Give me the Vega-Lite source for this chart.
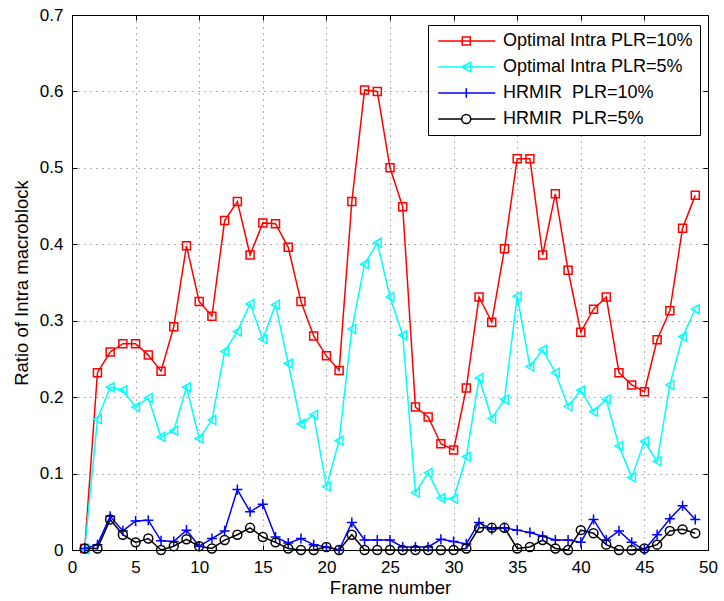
{
  "$schema": "https://vega.github.io/schema/vega-lite/v6.json",
  "width": 636,
  "height": 535,
  "autosize": {"type": "none"},
  "padding": {"left": 72, "top": 15, "right": 16, "bottom": 51},
  "background": "white",
  "config": {
    "font": "Liberation Sans",
    "view": {"stroke": "#000", "strokeWidth": 1},
    "axis": {
      "labelFontSize": 17,
      "labelColor": "#000",
      "labelFont": "Liberation Sans",
      "titleFont": "Liberation Sans",
      "titleFontSize": 18.5,
      "titleFontWeight": "normal",
      "titleColor": "#000",
      "tickColor": "#000",
      "tickSize": -5,
      "domain": false,
      "grid": true,
      "gridColor": "#000",
      "gridDash": [1, 5],
      "gridOpacity": 0.6,
      "labelFlush": false
    }
  },
  "data": {
    "values": [
      {"f": 1, "Optimal Intra PLR=10%": 0.002, "Optimal Intra PLR=5%": 0.001, "HRMIR\u00a0 PLR=10%": 0.002, "HRMIR\u00a0 PLR=5%": 0.002},
      {"f": 2, "Optimal Intra PLR=10%": 0.232, "Optimal Intra PLR=5%": 0.171, "HRMIR\u00a0 PLR=10%": 0.007, "HRMIR\u00a0 PLR=5%": 0.002},
      {"f": 3, "Optimal Intra PLR=10%": 0.259, "Optimal Intra PLR=5%": 0.213, "HRMIR\u00a0 PLR=10%": 0.044, "HRMIR\u00a0 PLR=5%": 0.040},
      {"f": 4, "Optimal Intra PLR=10%": 0.270, "Optimal Intra PLR=5%": 0.209, "HRMIR\u00a0 PLR=10%": 0.025, "HRMIR\u00a0 PLR=5%": 0.020},
      {"f": 5, "Optimal Intra PLR=10%": 0.270, "Optimal Intra PLR=5%": 0.187, "HRMIR\u00a0 PLR=10%": 0.038, "HRMIR\u00a0 PLR=5%": 0.010},
      {"f": 6, "Optimal Intra PLR=10%": 0.255, "Optimal Intra PLR=5%": 0.199, "HRMIR\u00a0 PLR=10%": 0.039, "HRMIR\u00a0 PLR=5%": 0.015},
      {"f": 7, "Optimal Intra PLR=10%": 0.234, "Optimal Intra PLR=5%": 0.148, "HRMIR\u00a0 PLR=10%": 0.012, "HRMIR\u00a0 PLR=5%": 0.000},
      {"f": 8, "Optimal Intra PLR=10%": 0.292, "Optimal Intra PLR=5%": 0.156, "HRMIR\u00a0 PLR=10%": 0.011, "HRMIR\u00a0 PLR=5%": 0.005},
      {"f": 9, "Optimal Intra PLR=10%": 0.398, "Optimal Intra PLR=5%": 0.213, "HRMIR\u00a0 PLR=10%": 0.026, "HRMIR\u00a0 PLR=5%": 0.014},
      {"f": 10, "Optimal Intra PLR=10%": 0.325, "Optimal Intra PLR=5%": 0.146, "HRMIR\u00a0 PLR=10%": 0.005, "HRMIR\u00a0 PLR=5%": 0.005},
      {"f": 11, "Optimal Intra PLR=10%": 0.306, "Optimal Intra PLR=5%": 0.170, "HRMIR\u00a0 PLR=10%": 0.015, "HRMIR\u00a0 PLR=5%": 0.002},
      {"f": 12, "Optimal Intra PLR=10%": 0.431, "Optimal Intra PLR=5%": 0.260, "HRMIR\u00a0 PLR=10%": 0.025, "HRMIR\u00a0 PLR=5%": 0.013},
      {"f": 13, "Optimal Intra PLR=10%": 0.456, "Optimal Intra PLR=5%": 0.286, "HRMIR\u00a0 PLR=10%": 0.079, "HRMIR\u00a0 PLR=5%": 0.020},
      {"f": 14, "Optimal Intra PLR=10%": 0.386, "Optimal Intra PLR=5%": 0.322, "HRMIR\u00a0 PLR=10%": 0.050, "HRMIR\u00a0 PLR=5%": 0.029},
      {"f": 15, "Optimal Intra PLR=10%": 0.428, "Optimal Intra PLR=5%": 0.276, "HRMIR\u00a0 PLR=10%": 0.060, "HRMIR\u00a0 PLR=5%": 0.017},
      {"f": 16, "Optimal Intra PLR=10%": 0.427, "Optimal Intra PLR=5%": 0.321, "HRMIR\u00a0 PLR=10%": 0.017, "HRMIR\u00a0 PLR=5%": 0.010},
      {"f": 17, "Optimal Intra PLR=10%": 0.396, "Optimal Intra PLR=5%": 0.244, "HRMIR\u00a0 PLR=10%": 0.009, "HRMIR\u00a0 PLR=5%": 0.002},
      {"f": 18, "Optimal Intra PLR=10%": 0.325, "Optimal Intra PLR=5%": 0.165, "HRMIR\u00a0 PLR=10%": 0.015, "HRMIR\u00a0 PLR=5%": 0.000},
      {"f": 19, "Optimal Intra PLR=10%": 0.280, "Optimal Intra PLR=5%": 0.177, "HRMIR\u00a0 PLR=10%": 0.007, "HRMIR\u00a0 PLR=5%": 0.000},
      {"f": 20, "Optimal Intra PLR=10%": 0.254, "Optimal Intra PLR=5%": 0.083, "HRMIR\u00a0 PLR=10%": 0.004, "HRMIR\u00a0 PLR=5%": 0.004},
      {"f": 21, "Optimal Intra PLR=10%": 0.235, "Optimal Intra PLR=5%": 0.143, "HRMIR\u00a0 PLR=10%": 0.000, "HRMIR\u00a0 PLR=5%": 0.000},
      {"f": 22, "Optimal Intra PLR=10%": 0.456, "Optimal Intra PLR=5%": 0.289, "HRMIR\u00a0 PLR=10%": 0.036, "HRMIR\u00a0 PLR=5%": 0.020},
      {"f": 23, "Optimal Intra PLR=10%": 0.602, "Optimal Intra PLR=5%": 0.374, "HRMIR\u00a0 PLR=10%": 0.013, "HRMIR\u00a0 PLR=5%": 0.000},
      {"f": 24, "Optimal Intra PLR=10%": 0.600, "Optimal Intra PLR=5%": 0.402, "HRMIR\u00a0 PLR=10%": 0.013, "HRMIR\u00a0 PLR=5%": 0.000},
      {"f": 25, "Optimal Intra PLR=10%": 0.500, "Optimal Intra PLR=5%": 0.331, "HRMIR\u00a0 PLR=10%": 0.013, "HRMIR\u00a0 PLR=5%": 0.000},
      {"f": 26, "Optimal Intra PLR=10%": 0.449, "Optimal Intra PLR=5%": 0.281, "HRMIR\u00a0 PLR=10%": 0.004, "HRMIR\u00a0 PLR=5%": 0.000},
      {"f": 27, "Optimal Intra PLR=10%": 0.187, "Optimal Intra PLR=5%": 0.075, "HRMIR\u00a0 PLR=10%": 0.004, "HRMIR\u00a0 PLR=5%": 0.000},
      {"f": 28, "Optimal Intra PLR=10%": 0.174, "Optimal Intra PLR=5%": 0.101, "HRMIR\u00a0 PLR=10%": 0.004, "HRMIR\u00a0 PLR=5%": 0.000},
      {"f": 29, "Optimal Intra PLR=10%": 0.139, "Optimal Intra PLR=5%": 0.068, "HRMIR\u00a0 PLR=10%": 0.014, "HRMIR\u00a0 PLR=5%": 0.000},
      {"f": 30, "Optimal Intra PLR=10%": 0.131, "Optimal Intra PLR=5%": 0.067, "HRMIR\u00a0 PLR=10%": 0.011, "HRMIR\u00a0 PLR=5%": 0.000},
      {"f": 31, "Optimal Intra PLR=10%": 0.212, "Optimal Intra PLR=5%": 0.122, "HRMIR\u00a0 PLR=10%": 0.008, "HRMIR\u00a0 PLR=5%": 0.002},
      {"f": 32, "Optimal Intra PLR=10%": 0.331, "Optimal Intra PLR=5%": 0.225, "HRMIR\u00a0 PLR=10%": 0.036, "HRMIR\u00a0 PLR=5%": 0.029},
      {"f": 33, "Optimal Intra PLR=10%": 0.298, "Optimal Intra PLR=5%": 0.172, "HRMIR\u00a0 PLR=10%": 0.027, "HRMIR\u00a0 PLR=5%": 0.029},
      {"f": 34, "Optimal Intra PLR=10%": 0.394, "Optimal Intra PLR=5%": 0.197, "HRMIR\u00a0 PLR=10%": 0.029, "HRMIR\u00a0 PLR=5%": 0.029},
      {"f": 35, "Optimal Intra PLR=10%": 0.512, "Optimal Intra PLR=5%": 0.332, "HRMIR\u00a0 PLR=10%": 0.026, "HRMIR\u00a0 PLR=5%": 0.002},
      {"f": 36, "Optimal Intra PLR=10%": 0.512, "Optimal Intra PLR=5%": 0.240, "HRMIR\u00a0 PLR=10%": 0.023, "HRMIR\u00a0 PLR=5%": 0.004},
      {"f": 37, "Optimal Intra PLR=10%": 0.386, "Optimal Intra PLR=5%": 0.262, "HRMIR\u00a0 PLR=10%": 0.018, "HRMIR\u00a0 PLR=5%": 0.013},
      {"f": 38, "Optimal Intra PLR=10%": 0.466, "Optimal Intra PLR=5%": 0.232, "HRMIR\u00a0 PLR=10%": 0.013, "HRMIR\u00a0 PLR=5%": 0.002},
      {"f": 39, "Optimal Intra PLR=10%": 0.366, "Optimal Intra PLR=5%": 0.188, "HRMIR\u00a0 PLR=10%": 0.013, "HRMIR\u00a0 PLR=5%": 0.000},
      {"f": 40, "Optimal Intra PLR=10%": 0.285, "Optimal Intra PLR=5%": 0.209, "HRMIR\u00a0 PLR=10%": 0.010, "HRMIR\u00a0 PLR=5%": 0.026},
      {"f": 41, "Optimal Intra PLR=10%": 0.315, "Optimal Intra PLR=5%": 0.181, "HRMIR\u00a0 PLR=10%": 0.040, "HRMIR\u00a0 PLR=5%": 0.022},
      {"f": 42, "Optimal Intra PLR=10%": 0.331, "Optimal Intra PLR=5%": 0.197, "HRMIR\u00a0 PLR=10%": 0.013, "HRMIR\u00a0 PLR=5%": 0.007},
      {"f": 43, "Optimal Intra PLR=10%": 0.232, "Optimal Intra PLR=5%": 0.136, "HRMIR\u00a0 PLR=10%": 0.025, "HRMIR\u00a0 PLR=5%": 0.000},
      {"f": 44, "Optimal Intra PLR=10%": 0.216, "Optimal Intra PLR=5%": 0.095, "HRMIR\u00a0 PLR=10%": 0.010, "HRMIR\u00a0 PLR=5%": 0.000},
      {"f": 45, "Optimal Intra PLR=10%": 0.207, "Optimal Intra PLR=5%": 0.142, "HRMIR\u00a0 PLR=10%": 0.000, "HRMIR\u00a0 PLR=5%": 0.002},
      {"f": 46, "Optimal Intra PLR=10%": 0.275, "Optimal Intra PLR=5%": 0.116, "HRMIR\u00a0 PLR=10%": 0.020, "HRMIR\u00a0 PLR=5%": 0.007},
      {"f": 47, "Optimal Intra PLR=10%": 0.313, "Optimal Intra PLR=5%": 0.216, "HRMIR\u00a0 PLR=10%": 0.041, "HRMIR\u00a0 PLR=5%": 0.025},
      {"f": 48, "Optimal Intra PLR=10%": 0.421, "Optimal Intra PLR=5%": 0.279, "HRMIR\u00a0 PLR=10%": 0.058, "HRMIR\u00a0 PLR=5%": 0.027},
      {"f": 49, "Optimal Intra PLR=10%": 0.464, "Optimal Intra PLR=5%": 0.315, "HRMIR\u00a0 PLR=10%": 0.040, "HRMIR\u00a0 PLR=5%": 0.022}
    ]
  },
  "transform": [
    {"fold": ["Optimal Intra PLR=10%", "Optimal Intra PLR=5%", "HRMIR\u00a0 PLR=10%", "HRMIR\u00a0 PLR=5%"], "as": ["series", "value"]}
  ],
  "layer": [
    {
      "mark": {"type": "line", "strokeWidth": 1.5},
      "encoding": {
        "x": {"field": "f", "type": "quantitative", "scale": {"domain": [0, 50], "nice": false},
              "axis": {"values": [0, 5, 10, 15, 20, 25, 30, 35, 40, 45, 50], "title": "Frame number", "labelPadding": 14, "titlePadding": 3}},
        "y": {"field": "value", "type": "quantitative", "scale": {"domain": [0, 0.7], "nice": false},
              "axis": {"values": [0, 0.1, 0.2, 0.3, 0.4, 0.5, 0.6, 0.7], "title": "Ratio of Intra macroblock",
                       "labelExpr": "datum.value == 0 ? '0' : format(datum.value, '.1f')", "labelPadding": 14, "titlePadding": 8}},
        "color": {"field": "series", "type": "nominal",
                  "scale": {"domain": ["Optimal Intra PLR=10%", "Optimal Intra PLR=5%", "HRMIR\u00a0 PLR=10%", "HRMIR\u00a0 PLR=5%"],
                            "range": ["#ff0000", "#00ffff", "#0000ff", "#000000"]},
                  "legend": {
                    "title": null,
                    "orient": "none",
                    "legendX": 356,
                    "legendY": 10,
                    "strokeColor": "#000",
                    "fillColor": "#fff",
                    "padding": 7,
                    "labelFont": "Liberation Sans",
                    "labelFontSize": 18,
                    "labelColor": "#000",
                    "labelOffset": 50,
                    "rowPadding": 8,
                    "symbolSize": 100,
                    "symbolStrokeWidth": 1.5,
                    "labelLimit": 400,
                    "encode": {
                      "symbols": {
                        "update": {
                          "shape": {"signal": "['M-1.15,0H10.25M3.65,-0.8H5.25V0.8H3.65Z', 'M-1.15,0H10.25M3.55,0L5.35,-0.95L5.35,0.95Z', 'M-1.15,0H10.25M4.45,-0.95V0.95', 'M-1.15,0H3.55M5.35,0H10.25M3.55,0A0.9,0.9,0,1,1,5.35,0A0.9,0.9,0,1,1,3.55,0Z'][datum.index]"},
                          "fill": {"value": "transparent"},
                          "strokeWidth": {"value": 1.5}
                        }
                      }
                    }
                  }}
      }
    },
    {
      "transform": [{"filter": "datum.series === 'Optimal Intra PLR=10%'"}],
      "mark": {"type": "point", "shape": "square", "filled": false, "strokeWidth": 1.5, "size": 64, "opacity": 1},
      "encoding": {
        "x": {"field": "f", "type": "quantitative", "axis": null},
        "y": {"field": "value", "type": "quantitative", "axis": null},
        "color": {"field": "series", "type": "nominal"}
      }
    },
    {
      "transform": [{"filter": "datum.series === 'Optimal Intra PLR=5%'"}],
      "mark": {"type": "point", "shape": "triangle-left", "filled": false, "strokeWidth": 1.5, "size": 80, "opacity": 1},
      "encoding": {
        "x": {"field": "f", "type": "quantitative", "axis": null},
        "y": {"field": "value", "type": "quantitative", "axis": null},
        "color": {"field": "series", "type": "nominal"}
      }
    },
    {
      "transform": [{"filter": "datum.series === 'HRMIR\u00a0 PLR=10%'"}],
      "mark": {"type": "point", "shape": "M-1.2,0H1.2M0,-1.2V1.2", "filled": false, "strokeWidth": 1.5, "size": 70, "opacity": 1},
      "encoding": {
        "x": {"field": "f", "type": "quantitative", "axis": null},
        "y": {"field": "value", "type": "quantitative", "axis": null},
        "color": {"field": "series", "type": "nominal"}
      }
    },
    {
      "transform": [{"filter": "datum.series === 'HRMIR\u00a0 PLR=5%'"}],
      "mark": {"type": "point", "shape": "circle", "filled": false, "strokeWidth": 1.5, "size": 80, "opacity": 1},
      "encoding": {
        "x": {"field": "f", "type": "quantitative", "axis": null},
        "y": {"field": "value", "type": "quantitative", "axis": null},
        "color": {"field": "series", "type": "nominal"}
      }
    },
    {
      "mark": {"type": "line", "opacity": 0},
      "encoding": {
        "x": {"field": "f", "type": "quantitative",
              "axis": {"orient": "top", "values": [0, 5, 10, 15, 20, 25, 30, 35, 40, 45, 50], "labels": false, "title": null, "grid": false}},
        "y": {"field": "value", "type": "quantitative",
              "axis": {"orient": "right", "values": [0, 0.1, 0.2, 0.3, 0.4, 0.5, 0.6, 0.7], "labels": false, "title": null, "grid": false}},
        "detail": {"field": "series", "type": "nominal"}
      }
    }
  ],
  "resolve": {"axis": {"x": "independent", "y": "independent"}}
}
